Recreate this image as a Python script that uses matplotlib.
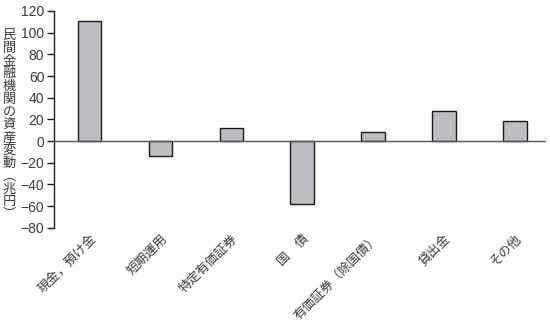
import matplotlib
matplotlib.use("Agg")
import matplotlib.pyplot as plt

categories = ["現金，預け金", "短期運用", "特定有価証券", "国　債", "有価証券（除国債）", "貸出金", "その他"]
values = [111, -14, 12, -58, 8, 28, 18.5]
yticks = [-80, -60, -40, -20, 0, 20, 40, 60, 80, 100, 120]
ylabel = "民間金融機関の資産変動︵兆円︶"

plt.rcParams['font.family'] = ['Noto Sans CJK JP', 'DejaVu Sans']
text_color = "#3a3a3a"

fig = plt.figure(figsize=(5.5, 3.22), dpi=100)
ax = fig.add_axes([54/550, 1-227.7/322, (546-54)/550, (227.7-11)/322])

x = list(range(len(categories)))
ax.bar(x, values, width=0.33, color="#bebec2", edgecolor="#1a1a1a", linewidth=1.0, zorder=2)
ax.axhline(0, color="#555555", linewidth=1.0, zorder=3)

ax.set_xlim(-0.5, 6.44)
ax.set_ylim(-80, 120)
ax.set_yticks(yticks)
ax.set_yticklabels([("−" + str(-v)) if v < 0 else str(v) for v in yticks],
                   family=['Liberation Sans Narrow', 'Liberation Sans', 'DejaVu Sans'],
                   fontsize=10, color=text_color)
ax.tick_params(axis='y', direction='out', length=5, width=1, color="#222222", pad=2)
ax.set_xticks(x)
ax.set_xticklabels(categories, rotation=45, ha='right', va='top', rotation_mode='anchor',
                   fontsize=9.2, color=text_color)
ax.tick_params(axis='x', length=0, pad=3)

for s in ['top', 'right', 'bottom']:
    ax.spines[s].set_visible(False)
ax.spines['left'].set_color("#222222")
ax.spines['left'].set_linewidth(1.0)

fig.text(9/550, 1-125/322, "\n".join(ylabel), ha='center', va='center',
         fontsize=9.5, color=text_color, linespacing=0.98)

fig.savefig("out.png", dpi=100)
